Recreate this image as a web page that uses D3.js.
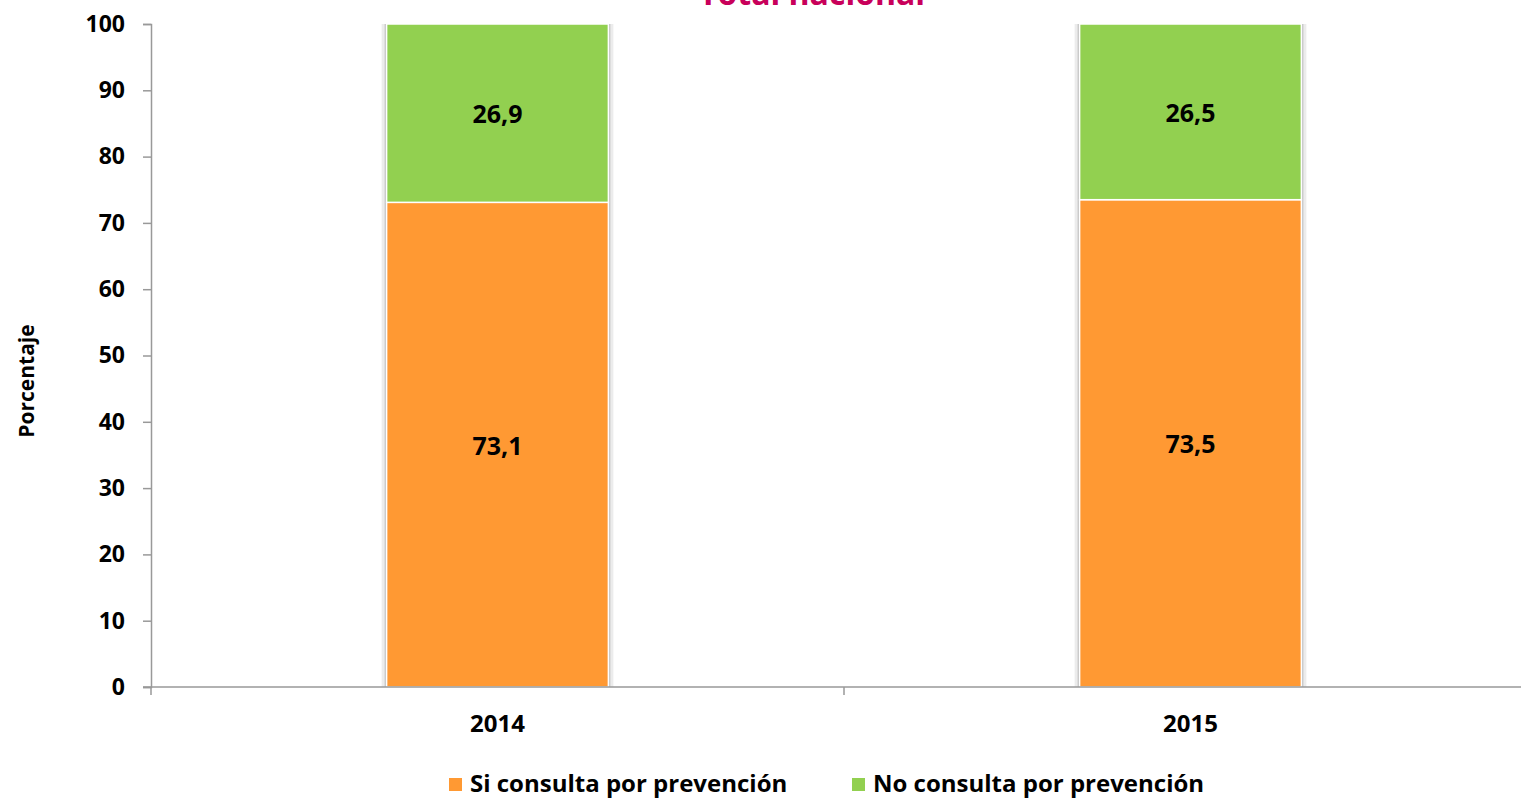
<!DOCTYPE html>
<html>
<head>
<meta charset="utf-8">
<script src="https://cdn.jsdelivr.net/npm/d3@7"></script>
<style>
  body { margin: 0; background: #fff; }
  svg { display: block; font-family: "Open Sans", Lato, sans-serif; font-weight: bold; }
</style>
</head>
<body>
<div id="chart"></div>
<script>
// data
var years = ["2014", "2015"];
var siConsulta = [73.1, 73.5];
var noConsulta = [26.9, 26.5];
var seriesNames = ["Si consulta por prevención", "No consulta por prevención"];
var seriesColors = ["#FF9933", "#92D050"];
var yTicks = [0, 10, 20, 30, 40, 50, 60, 70, 80, 90, 100];

var W = 1521, H = 799;
var margin = {left: 151, top: 24, bottom: 112};

var svg = d3.select("#chart").append("svg").attr("width", W).attr("height", H);

var x = d3.scaleBand().domain(years).range([margin.left, 1537]);
var y = d3.scaleLinear().domain([0, 100]).range([H - margin.bottom, margin.top]);

var barW = x.bandwidth() * 0.32;

// title, mostly cut off at the top like in the source
svg.append("text")
  .attr("x", 812).attr("y", 5)
  .attr("text-anchor", "middle")
  .attr("fill", "#C8005A")
  .attr("font-size", 32)
  .text("Total nacional");

var rows = years.map(function(d, i){
  return {year: d, si: siConsulta[i], no: noConsulta[i]};
});
var stack = d3.stack().keys(["si", "no"])(rows);

// soft shadow behind bars
svg.selectAll("rect.shadow")
  .data(rows)
  .enter().append("rect")
    .attr("class", "shadow")
    .attr("x", function(d){ return x(d.year) + x.bandwidth()/2 - barW/2 - 5; })
    .attr("width", barW + 10)
    .attr("y", y(100))
    .attr("height", y(0) - y(100))
    .attr("fill", "#ececec");
svg.selectAll("rect.shadow2")
  .data(rows)
  .enter().append("rect")
    .attr("class", "shadow2")
    .attr("x", function(d){ return x(d.year) + x.bandwidth()/2 - barW/2 - 2; })
    .attr("width", barW + 4)
    .attr("y", y(100))
    .attr("height", y(0) - y(100))
    .attr("fill", "#c4c4c4");

var groups = svg.selectAll("g.series")
  .data(stack)
  .enter().append("g")
    .attr("class", "series")
    .attr("fill", function(d, i){ return seriesColors[i]; });

groups.selectAll("rect")
  .data(function(d){ return d; })
  .enter().append("rect")
    .attr("x", function(d){ return x(d.data.year) + x.bandwidth()/2 - barW/2; })
    .attr("width", barW)
    .attr("y", function(d){ return y(d[1]); })
    .attr("height", function(d){ return y(d[0]) - y(d[1]); })
    .attr("stroke", "#fff")
    .attr("stroke-width", 1.5);

groups.selectAll("text")
  .data(function(d){ return d; })
  .enter().append("text")
    .attr("x", function(d){ return x(d.data.year) + x.bandwidth()/2; })
    .attr("y", function(d){ return (y(d[0]) + y(d[1])) / 2; })
    .attr("text-anchor", "middle")
    .attr("dominant-baseline", "central")
    .attr("fill", "#000")
    .attr("font-size", 25)
    .text(function(d){ return d3.format(".1f")(d[1] - d[0]).replace(".", ","); });

// y axis
var yAxis = d3.axisLeft(y).tickValues(yTicks).tickSize(8).tickPadding(18);
var gy = svg.append("g")
  .attr("transform", "translate(" + margin.left + ",0)")
  .call(yAxis);
gy.select(".domain").attr("stroke", "#999").attr("stroke-width", 1.5);
gy.selectAll(".tick line").attr("stroke", "#999").attr("stroke-width", 1.5);
gy.selectAll(".tick text").attr("font-size", 23).attr("font-family", "Open Sans").attr("font-weight", "bold").attr("fill", "#000");

// x axis
var xAxis = d3.axisBottom(x).tickSize(0).tickPadding(28);
var gx = svg.append("g")
  .attr("transform", "translate(0," + y(0) + ")")
  .call(xAxis);
gx.select(".domain").remove();
gx.append("line")
  .attr("x1", margin.left - 8).attr("x2", W)
  .attr("stroke", "#999").attr("stroke-width", 1.5);
gx.selectAll(".sep")
  .data(years.slice(1))
  .enter().append("line")
    .attr("x1", function(d){ return x(d); }).attr("x2", function(d){ return x(d); })
    .attr("y1", 0).attr("y2", 8)
    .attr("stroke", "#999").attr("stroke-width", 1.5);
gx.append("line")
  .attr("x1", margin.left).attr("x2", margin.left).attr("y1", 0).attr("y2", 8)
  .attr("stroke", "#999").attr("stroke-width", 1.5);
gx.selectAll(".tick text").attr("font-size", 24).attr("font-family", "Open Sans").attr("font-weight", "bold").attr("fill", "#000");

// y axis title
svg.append("text")
  .attr("transform", "translate(34,381) rotate(-90)")
  .attr("text-anchor", "middle")
  .attr("font-size", 21)
  .text("Porcentaje");

// legend
var legendX = [449, 852];
var legend = svg.selectAll("g.legend")
  .data(seriesNames)
  .enter().append("g")
    .attr("class", "legend")
    .attr("transform", function(d, i){ return "translate(" + legendX[i] + ",782)"; });
legend.append("rect")
  .attr("x", 0).attr("y", -4).attr("width", 13).attr("height", 13)
  .attr("fill", function(d, i){ return seriesColors[i]; });
legend.append("text")
  .attr("x", 21).attr("y", 0)
  .attr("dominant-baseline", "central")
  .attr("font-size", 24)
  .text(function(d){ return d; });
</script>
</body>
</html>
